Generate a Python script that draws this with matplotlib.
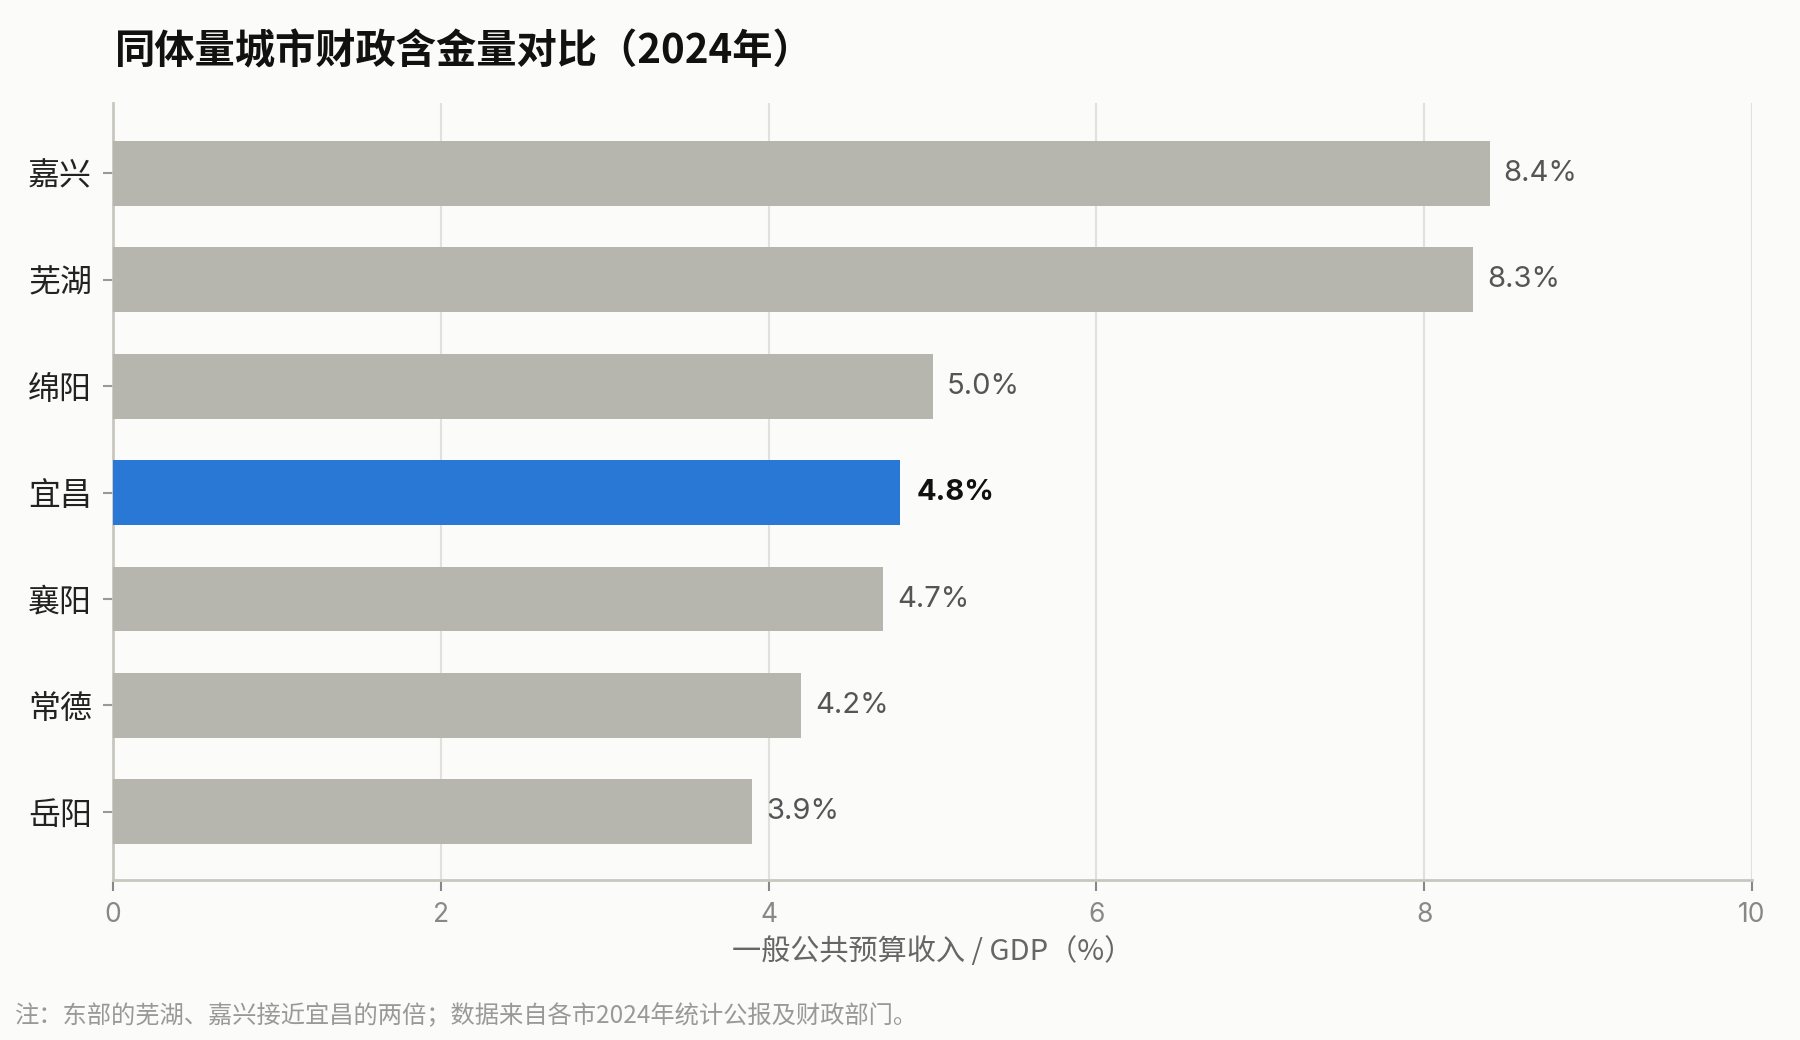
import matplotlib
matplotlib.use("Agg")
import matplotlib.pyplot as plt

plt.rcParams['font.family'] = ['Noto Sans CJK SC', 'DejaVu Sans']

cities = ["嘉兴", "芜湖", "绵阳", "宜昌", "襄阳", "常德", "岳阳"]
values = [8.4, 8.3, 5.0, 4.8, 4.7, 4.2, 3.9]
highlight = "宜昌"
xticks = [0, 2, 4, 6, 8, 10]
title = "同体量城市财政含金量对比（2024年）"
xlabel = "一般公共预算收入 / GDP（%）"
note = "注：东部的芜湖、嘉兴接近宜昌的两倍；数据来自各市2024年统计公报及财政部门。"

BG = "#fbfbf9"
GREY = "#b6b6ae"
BLUE = "#2a78d6"

fig = plt.figure(figsize=(18, 10.4), dpi=100, facecolor=BG)
ax = fig.add_axes([113/1800, 1 - 880/1040, (1752-113)/1800, (880-103)/1040])
ax.set_facecolor(BG)

ypos = list(range(len(cities)))
colors = [BLUE if c == highlight else GREY for c in cities]
ax.barh(ypos, values, height=0.61, color=colors, zorder=3)

for y, v, c in zip(ypos, values, cities):
    if c == highlight:
        ax.annotate(f"{v:.1f}%", (v, y), xytext=(12, 0), textcoords="offset points",
                    va="center", ha="left", fontsize=21, fontweight="bold",
                    color="#111111", family=['Inter', 'Noto Sans CJK SC'])
    else:
        ax.annotate(f"{v:.1f}%", (v, y), xytext=(10, 0), textcoords="offset points",
                    va="center", ha="left", fontsize=21, color="#555555",
                    family=['Inter', 'Noto Sans CJK SC'])

ax.set_xlim(0, 10)
ax.set_ylim(len(cities) - 1 + 0.64, -0.66)
ax.set_yticks(ypos)
ax.set_yticklabels(cities, fontsize=23, color="#222222")
ax.set_xticks(xticks)
ax.set_xticklabels([str(t) for t in xticks], fontsize=19, color="#888888",
                   family=['Inter', 'Noto Sans CJK SC'])

ax.grid(axis="x", color="#e2e0da", linewidth=1.5, zorder=0)
ax.grid(axis="y", visible=False)
for s in ["top", "right"]:
    ax.spines[s].set_visible(False)
ax.spines["left"].set_color("#c8c8c0")
ax.spines["left"].set_linewidth(2)
ax.spines["bottom"].set_color("#c8c8c0")
ax.spines["bottom"].set_linewidth(2)
ax.tick_params(axis="y", length=7, width=1.5, color="#999999", pad=8)
ax.tick_params(axis="x", length=8, width=1.5, color="#888888", pad=8)

ax.set_xlabel(xlabel, fontsize=21, color="#666666", labelpad=6)

fig.text(115/1800, 1 - 52/1040, title, fontsize=29, fontweight="bold",
         color="#111111", va="center", ha="left")
fig.text(15/1800, 1 - 1016/1040, note, fontsize=17.5, color="#999999",
         va="center", ha="left")

fig.savefig("out.png", dpi=100, facecolor=BG)
